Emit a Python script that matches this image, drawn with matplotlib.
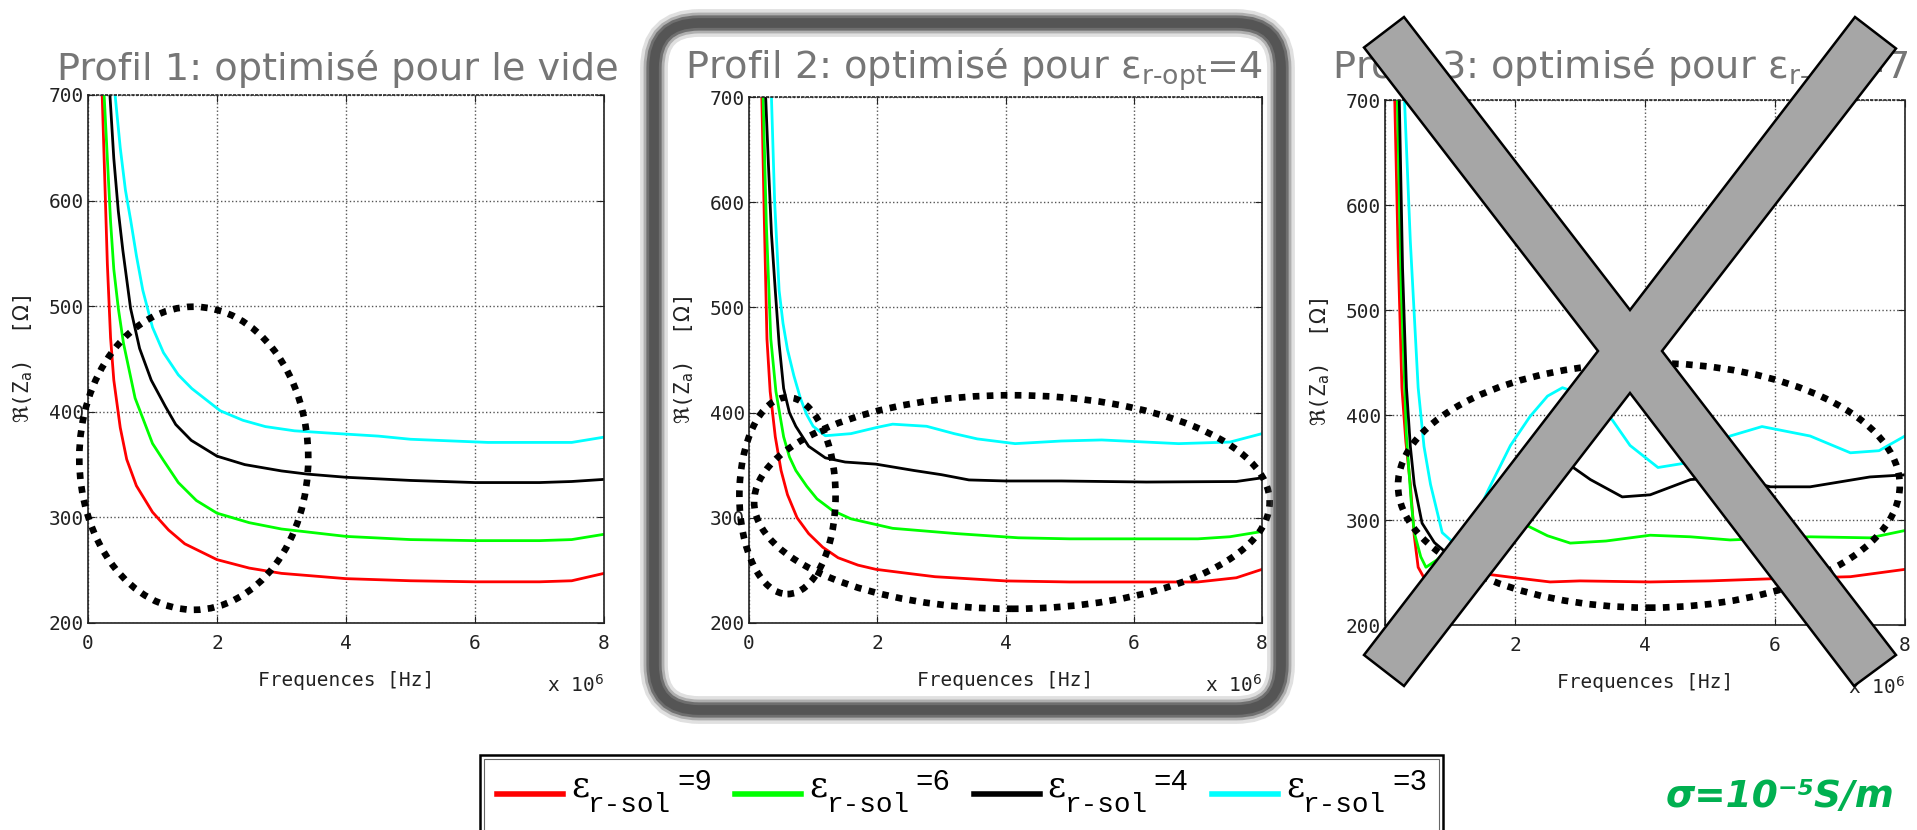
import matplotlib
matplotlib.use('Agg')
import matplotlib.pyplot as plt
from matplotlib.patches import Ellipse, FancyBboxPatch, Polygon, Rectangle
from matplotlib.lines import Line2D

W, H = 1917, 830

# frequences in units of 1e6 Hz, real part of Za in ohm
# --- profil 1
p1_red_f = [0.22, 0.26, 0.30, 0.35, 0.40, 0.50, 0.60, 0.75, 1.0, 1.25, 1.5, 2.0, 2.5, 3.0, 4.0, 5.0, 6.0, 7.0, 7.5, 8.0]
p1_red_z = [700, 620, 540, 470, 430, 385, 355, 330, 305, 288, 275, 260, 252, 247, 242, 240, 239, 239, 240, 247]
p1_green_f = [0.25, 0.30, 0.35, 0.40, 0.47, 0.55, 0.73, 1.0, 1.17, 1.4, 1.68, 2.0, 2.5, 3.0, 4.0, 5.0, 6.0, 7.0, 7.5, 8.0]
p1_green_z = [700, 640, 580, 535, 498, 465, 413, 370, 354, 333, 316, 304, 295, 289, 282, 279, 278, 278, 279, 284]
p1_black_f = [0.34, 0.40, 0.47, 0.54, 0.66, 0.8, 0.98, 1.2, 1.36, 1.6, 2.0, 2.43, 3.0, 3.4, 4.0, 5.0, 6.0, 7.0, 7.5, 8.0]
p1_black_z = [700, 640, 590, 553, 498, 460, 430, 405, 388, 373, 358, 350, 344, 341, 338, 335, 333, 333, 334, 336]
p1_cyan_f = [0.42, 0.5, 0.58, 0.66, 0.75, 0.85, 1.0, 1.17, 1.4, 1.61, 2.05, 2.4, 2.75, 3.2, 3.7, 4.5, 5.0, 6.2, 7.5, 8.0]
p1_cyan_z = [700, 650, 610, 582, 548, 515, 480, 456, 435, 422, 401, 392, 386, 382, 380, 377, 374, 371, 371, 376]

# --- profil 2
p2_red_f = [0.2, 0.24, 0.28, 0.33, 0.41, 0.5, 0.6, 0.75, 0.93, 1.15, 1.39, 1.7, 1.98, 2.5, 2.9, 4.0, 5.0, 6.2, 7.0, 7.6, 8.0]
p2_red_z = [700, 580, 470, 420, 377, 345, 322, 300, 285, 272, 262, 255, 251, 247, 244, 240, 239, 239, 239, 243, 251]
p2_green_f = [0.22, 0.27, 0.34, 0.42, 0.54, 0.63, 0.73, 0.9, 1.06, 1.3, 1.59, 2.24, 3.23, 4.2, 5.0, 6.2, 7.0, 7.5, 8.0]
p2_green_z = [700, 580, 470, 420, 377, 358, 345, 330, 318, 307, 299, 290, 285, 281, 280, 280, 280, 282, 287]
p2_black_f = [0.26, 0.3, 0.35, 0.41, 0.47, 0.54, 0.63, 0.73, 0.93, 1.19, 1.5, 1.98, 2.57, 3.0, 3.43, 4.0, 4.87, 6.2, 7.6, 8.0]
p2_black_z = [700, 640, 570, 516, 465, 423, 400, 387, 368, 357, 353, 351, 345, 341, 336, 335, 335, 334, 334.5, 338]
p2_cyan_f = [0.35, 0.4, 0.47, 0.53, 0.6, 0.7, 0.8, 0.9, 1.0, 1.19, 1.59, 2.0, 2.24, 2.77, 3.2, 3.56, 4.15, 4.87, 5.5, 6.7, 7.5, 8.0]
p2_cyan_z = [700, 600, 516, 485, 460, 435, 414, 398, 387, 378, 380, 386, 389, 387, 380, 375, 370.5, 373, 374, 370.5, 372, 380]

# --- profil 3
p3_red_f = [0.15, 0.2, 0.26, 0.32, 0.39, 0.45, 0.51, 0.6, 0.8, 1.2, 1.62, 2.0, 2.54, 3.0, 4.08, 5.0, 5.93, 7.16, 8.0]
p3_red_z = [700, 560, 426, 375, 334, 285, 255, 245, 243, 247, 248, 245, 241, 242, 241, 242, 244, 246, 253]
p3_green_f = [0.19, 0.25, 0.33, 0.4, 0.45, 0.55, 0.63, 0.8, 1.2, 1.6, 2.11, 2.5, 2.85, 3.4, 4.08, 4.7, 5.31, 6.54, 7.46, 8.0]
p3_green_z = [700, 520, 380, 320, 288, 265, 255, 262, 285, 300, 297, 285, 278, 280, 285.5, 284, 281, 284, 283, 290]
p3_black_f = [0.22, 0.27, 0.33, 0.39, 0.45, 0.57, 0.76, 0.94, 1.3, 1.7, 2.1, 2.5, 2.85, 3.16, 3.65, 4.08, 4.7, 5.31, 5.93, 6.54, 7.46, 8.0]
p3_black_z = [700, 540, 426, 370, 334, 297, 278.5, 269, 285, 315, 340, 355, 352, 338.5, 322, 324, 338.5, 341, 331.6, 331.6, 341, 343]
p3_cyan_f = [0.3, 0.39, 0.51, 0.6, 0.7, 0.88, 1.06, 1.3, 1.6, 1.93, 2.23, 2.5, 2.73, 3.16, 3.5, 3.77, 4.2, 4.7, 5.31, 5.8, 6.54, 7.16, 7.6, 8.0]
p3_cyan_z = [700, 565, 426, 370, 334, 288, 278, 290, 330, 371, 398.5, 418, 426, 417, 395, 371, 350, 355, 380, 389, 380, 364, 366, 380]

colors = ['#ff0000', '#00ff00', '#000000', '#00ffff']
eps_sol = ['9', '6', '4', '3']
titles = ['Profil 1: optimisé pour le vide',
          'Profil 2: optimisé pour ε$_\\text{r-opt}$=4',
          'Profil 3: optimisé pour ε$_\\text{r-opt}$=7']

panels = [
    [(p1_red_f, p1_red_z), (p1_green_f, p1_green_z), (p1_black_f, p1_black_z), (p1_cyan_f, p1_cyan_z)],
    [(p2_red_f, p2_red_z), (p2_green_f, p2_green_z), (p2_black_f, p2_black_z), (p2_cyan_f, p2_cyan_z)],
    [(p3_red_f, p3_red_z), (p3_green_f, p3_green_z), (p3_black_f, p3_black_z), (p3_cyan_f, p3_cyan_z)],
]

# axes boxes in pixels: left, top, right, bottom
ax_px = [(88, 95, 604, 623), (749, 97, 1262, 623), (1385, 100, 1905, 625)]
title_px = [(338, 69), (974, 70), (1620, 70)]

# dotted ellipses (data coords): cx, cy, width, height
ellipses = [
    [(1.64, 356, 3.55, 287)],
    [(0.6, 321, 1.5, 187), (4.1, 315, 8.04, 203)],
    [(4.06, 333, 7.72, 233)],
]

mono = 'DejaVu Sans Mono'
ink = '#222222'

fig = plt.figure(figsize=(W / 100, H / 100), dpi=100)
inch = fig.dpi_scale_trans


def px(x, y):
    return x / 100, (H - y) / 100


# frame around profil 2 (soft dark band)
for lw, alpha in [(20, 0.18), (15, 0.35), (11, 0.7), (7, 1.0)]:
    fig.patches.append(FancyBboxPatch(px(654, 710), 6.27, 6.87,
                                      boxstyle='round,pad=0,rounding_size=0.45',
                                      fc='none', ec='#555555', lw=lw, alpha=alpha,
                                      transform=inch, zorder=1))

for i, (l, t, r, b) in enumerate(ax_px):
    ax = fig.add_axes([l / W, 1 - b / H, (r - l) / W, (b - t) / H])
    ax.set_facecolor('white')
    for (f, z), c in zip(panels[i], colors):
        ax.plot(f, z, color=c, lw=2.0)
    for cx, cy, ew, eh in ellipses[i]:
        ax.add_patch(Ellipse((cx, cy), ew, eh, fill=False, ec='black', lw=4.8,
                             ls=(0, (1.0, 1.1)), clip_on=False, zorder=5))
    ax.set_xlim(0, 8)
    ax.set_ylim(200, 700)
    ax.set_xticks([0, 2, 4, 6, 8])
    ax.set_yticks([200, 300, 400, 500, 600, 700])
    ax.grid(True, ls=':', color='#555555', lw=1.0)
    ax.tick_params(direction='in', length=5, top=True, right=True, labelsize=14,
                   colors=ink)
    ax.tick_params(axis='x', pad=8)
    ax.tick_params(axis='y', pad=3)
    for lab in ax.get_xticklabels() + ax.get_yticklabels():
        lab.set_family(mono)
    ax.spines['top'].set_linestyle(':')
    for s in ax.spines.values():
        s.set_linewidth(1.2)
        s.set_color(ink)
    ax.set_xlabel('Frequences [Hz]', family=mono, fontsize=14, labelpad=13, color=ink)
    ax.set_ylabel('$\\Re$(Z$_\\mathrm{a}$)  [$\\Omega$]', family=mono, fontsize=15,
                  labelpad=10, color=ink)
    ax.text(1.0, -0.118, 'x 10$^\\mathrm{6}$', transform=ax.transAxes, ha='right',
            va='center', family=mono, fontsize=14, color=ink)
    tx, ty = title_px[i]
    fig.text(tx / W, 1 - ty / H, titles[i], ha='center', va='center', fontsize=27.5,
             color='#767676', family='DejaVu Sans')

# big grey cross over profil 3
cross = [(1364, 47.5), (1404, 17), (1630, 310), (1855, 17), (1896, 48.5), (1662, 351),
         (1896, 655), (1854, 686), (1630, 393), (1404, 686), (1364, 655), (1598, 351)]
fig.patches.append(Polygon([px(x, y) for x, y in cross], closed=True, fc='#a6a6a6',
                           ec='black', lw=1.8, transform=inch, zorder=20))

# legend box
fig.patches.append(Rectangle(px(480, 832), 9.63, 0.77, fc='white', ec='black', lw=1.8,
                             transform=inch, zorder=2))
fig.patches.append(Rectangle(px(484, 832), 9.55, 0.73, fc='none', ec='#666666', lw=0.8,
                             transform=inch, zorder=3))
for k, (c, e) in enumerate(zip(colors, eps_sol)):
    x0 = 497 + k * 238.3
    fig.lines.append(Line2D([x0 / 100, (x0 + 66) / 100], [(H - 794) / 100] * 2, color=c,
                            lw=4, transform=inch, zorder=4))
    fig.text((x0 + 74) / W, 1 - 786 / H, 'ε', ha='left', va='center', fontsize=25,
             family='DejaVu Serif', zorder=4)
    fig.text((x0 + 91) / W, 1 - 805 / H, 'r-sol', ha='left', va='center', fontsize=20,
             family='Liberation Mono', zorder=4)
    fig.text((x0 + 180) / W, 1 - 782 / H, '=' + e, ha='left', va='center', fontsize=21,
             family='Liberation Mono', zorder=4)

fig.text(1894 / W, 1 - 797 / H, 'σ=10⁻⁵S/m', ha='right', va='center', fontsize=27,
         color='#00b050', weight='bold', style='italic', family='DejaVu Sans')

fig.savefig('out.png', dpi=100)
